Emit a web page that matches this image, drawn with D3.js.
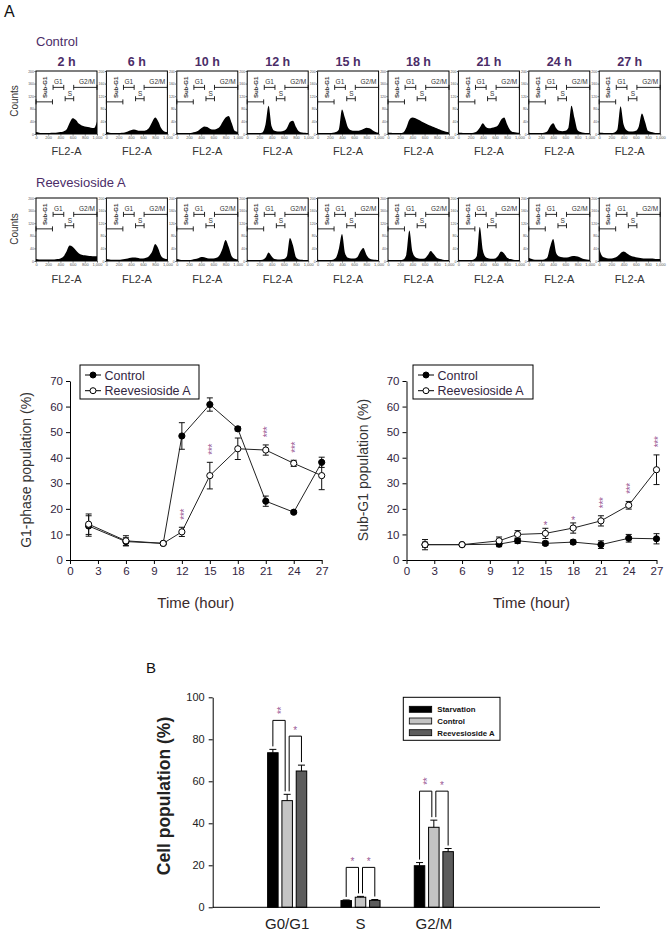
<!DOCTYPE html>
<html><head><meta charset="utf-8">
<script src="https://cdn.jsdelivr.net/npm/d3@7"></script>
<style>body{margin:0;background:#fff;} svg{display:block;font-family:'Liberation Sans',Arial,sans-serif;}</style>
</head><body><svg id="c" width="670" height="934"></svg>
<script>
// ---------- DATA ----------
const timePoints = ["2 h","6 h","10 h","12 h","15 h","18 h","21 h","24 h","27 h"];
const fl2Bins = [0,50,100,150,200,250,300,350,400,450,500,550,600,650,700,750,800,850,900,950,1000];
const histControl = [
  [6,4,3,3,3,4,4,5,6,8,14,35,50,45,33,27,24,22,20,19,40],
  [6,4,3,3,3,4,5,8,12,14,12,10,10,12,20,38,52,40,18,8,6],
  [5,3,3,3,3,4,6,10,18,24,22,16,14,16,22,38,52,57,35,10,6],
  [4,3,3,3,3,5,30,90,25,10,8,8,10,18,38,42,22,8,5,4,3],
  [4,3,3,3,3,4,6,15,78,50,20,12,10,10,12,16,20,18,12,6,4],
  [5,4,3,3,3,5,20,45,52,50,45,40,35,30,26,22,18,14,10,7,5],
  [5,4,3,3,3,4,8,20,34,22,18,20,22,28,45,52,30,12,6,5,4],
  [4,3,3,3,3,4,8,25,34,18,10,9,10,20,90,50,12,6,4,3,3],
  [5,4,3,3,3,5,15,88,30,12,8,8,10,25,65,40,10,6,4,3,3]
];
const histReev = [
  [6,5,5,5,5,5,5,6,8,14,30,49,45,35,25,20,18,17,16,15,15],
  [6,5,4,4,4,5,6,8,10,11,10,8,8,10,16,30,54,40,15,8,6],
  [6,4,3,3,3,4,6,9,13,12,9,8,8,10,18,40,67,45,15,7,5],
  [4,3,3,3,3,4,10,27,15,6,5,5,6,15,73,50,12,5,4,3,3],
  [4,3,3,3,3,4,10,40,86,25,10,8,8,12,30,41,20,8,5,4,3],
  [4,3,3,3,3,5,20,97,30,12,8,7,8,18,32,22,10,6,4,3,3],
  [4,3,3,3,3,5,15,108,35,12,8,7,8,16,30,24,10,6,4,3,3],
  [10,6,4,4,4,5,10,45,70,25,14,12,11,12,15,16,14,10,6,5,4],
  [38,15,10,8,8,10,15,25,30,25,18,14,12,10,9,8,8,8,7,6,6]
];
const gateNames = ["Sub-G1","G1","S","G2/M"];
const gateStart = [0,280,478,618];
const gateEnd   = [270,455,618,1000];
const gateLevel = [102,148,112,148];

const hours = [2,6,10,12,15,18,21,24,27];
const g1Control    = [13.3, 7.2, 6.5, 48.5, 60.8, 51.3, 23.0, 18.7, 38.2];
const g1ControlErr = [4.0, 1.5, 0.5, 5.2, 2.6, 0.8, 2.0, 0.6, 2.0];
const g1Reev       = [14.0, 7.5, 6.5, 11.0, 33.0, 43.5, 43.0, 37.8, 33.0];
const g1ReevErr    = [4.0, 2.0, 0.5, 1.8, 5.2, 4.2, 2.0, 1.2, 5.5];
const g1Sig        = ["","","","***","***","","***","***",""];
const subControl    = [6.0, 6.0, 6.2, 7.5, 6.5, 7.0, 6.0, 8.5, 8.3];
const subControlErr = [1.0, 0.5, 1.0, 1.0, 0.8, 0.8, 1.5, 1.5, 2.0];
const subReev       = [6.0, 6.0, 7.5, 10.0, 10.4, 12.5, 15.3, 21.4, 35.3];
const subReevErr    = [2.0, 0.5, 1.5, 1.5, 2.0, 2.0, 2.0, 1.5, 5.8];
const subSig        = ["","","","","*","*","***","***","***"];
const lineSeries = ["Control","Reevesioside A"];

const phases = ["G0/G1","S","G2/M"];
const barSeries = ["Starvation","Control","Reevesioside A"];
const starvation    = [73.6, 3.2, 19.8];
const starvationErr = [1.6, 0.3, 1.5];
const controlBar    = [50.8, 4.8, 38.1];
const controlBarErr = [3.0, 0.4, 3.4];
const reevBar       = [64.9, 3.3, 26.5];
const reevBarErr    = [2.8, 0.4, 1.5];
const barSig = [
  {phase:"G0/G1", a:0, b:1, label:"**"},
  {phase:"G0/G1", a:1, b:2, label:"*"},
  {phase:"S", a:0, b:1, label:"*"},
  {phase:"S", a:1, b:2, label:"*"},
  {phase:"G2/M", a:0, b:1, label:"**"},
  {phase:"G2/M", a:1, b:2, label:"*"}
];

// ---------- DRAW ----------
const svg = d3.select("#c");
const purple = "#4b2d68", dark = "#33263f", starCol = "#9a5a96";

// significance marks: multi-star labels are a single text turned to read vertically
function star(g, x, yc, label, fs){
  if(label.length > 1){
    g.append("text").attr("transform",`translate(${x},${yc}) rotate(-90)`)
      .attr("text-anchor","middle").attr("dy","0.57em").attr("font-size",fs)
      .attr("letter-spacing",-0.3).attr("fill",starCol).text(label);
  } else {
    g.append("text").attr("x",x).attr("y",yc + 0.57*fs).attr("text-anchor","middle")
      .attr("font-size",fs).attr("fill",starCol).text(label);
  }
}

// Panel A
svg.append("text").attr("x",4).attr("y",17).attr("font-size",16).attr("fill","#111").text("A");
const hW = 61, hH = 63, panelStep = 70.4, panelX0 = 36;
const hx = d3.scaleLinear().domain([0,1000]).range([0,hW]);
const hy = d3.scaleLinear().domain([0,200]).range([hH,0]).clamp(true);
const rowsA = [
  {title:"Control", data:histControl, top:71, titleY:46, countsY:101, fl2Y:155, time:true},
  {title:"Reevesioside A", data:histReev, top:198, titleY:186.5, countsY:229, fl2Y:283, time:false}
];
const area = d3.area().x((d,k)=>hx(fl2Bins[k])).y0(hy(0)).y1(d=>hy(d)).curve(d3.curveMonotoneX);
rowsA.forEach(row=>{
  svg.append("text").attr("x",36).attr("y",row.titleY).attr("font-size",13).attr("fill",purple).text(row.title);
  svg.append("text").attr("transform",`translate(18,${row.countsY}) rotate(-90)`).attr("text-anchor","middle")
    .attr("font-size",10).attr("fill","#333").text("Counts");
  row.data.forEach((vals,i)=>{
    const gx = panelX0 + i*panelStep;
    const g = svg.append("g").attr("transform",`translate(${gx},${row.top})`);
    if(row.time){
      svg.append("text").attr("x",gx+hW/2).attr("y",row.top-5.5).attr("text-anchor","middle")
        .attr("font-size",12.5).attr("font-weight","bold").attr("fill",purple).text(timePoints[i]);
    }
    g.append("path").datum(vals).attr("d",area).attr("fill","#000");
    g.append("rect").attr("width",hW).attr("height",hH).attr("fill","none").attr("stroke","#000").attr("stroke-width",1);
    const ax = d3.axisBottom(hx).tickValues([0,200,400,600,800,1000]).tickSize(1.5).tickPadding(0.5).tickSizeOuter(0);
    g.append("g").attr("transform",`translate(0,${hH})`).call(ax).call(s=>{
      s.select(".domain").remove();
      s.selectAll("text").attr("font-size",4).attr("fill","#555");
      s.selectAll("line").attr("stroke","#555");
    });
    const ay = d3.axisLeft(hy).tickValues([0,40,80,120,160,200]).tickSize(1.5).tickPadding(0.5).tickSizeOuter(0);
    g.append("g").call(ay).call(s=>{
      s.select(".domain").remove();
      s.selectAll("text").attr("font-size",3.5).attr("fill","#555");
      s.selectAll("line").attr("stroke","#555");
    });
    gateNames.forEach((nm,k)=>{
      const x1 = hx(gateStart[k]), x2 = hx(gateEnd[k]), yy = hy(gateLevel[k]);
      g.append("line").attr("x1",x1).attr("x2",x2).attr("y1",yy).attr("y2",yy).attr("stroke","#111").attr("stroke-width",0.9);
      [x1,x2].forEach(xx=>g.append("line").attr("x1",xx).attr("x2",xx).attr("y1",yy-2.5).attr("y2",yy+2.5).attr("stroke","#111").attr("stroke-width",0.9));
    });
    g.append("text").attr("transform",`translate(${hx(150)},${hy(148)}) rotate(-90)`).attr("text-anchor","middle")
      .attr("dy","0.35em").attr("font-size",6).attr("font-weight","bold").attr("fill","#333").text("Sub-G1");
    g.append("text").attr("x",hx(366)).attr("y",hy(166)).attr("dy","0.35em").attr("text-anchor","middle")
      .attr("font-size",6.5).attr("fill","#333").text("G1");
    g.append("text").attr("x",hx(555)).attr("y",hy(129)).attr("dy","0.35em").attr("text-anchor","middle")
      .attr("font-size",6.5).attr("fill","#333").text("S");
    g.append("text").attr("x",hx(835)).attr("y",hy(166)).attr("dy","0.35em").attr("text-anchor","middle")
      .attr("font-size",6.5).attr("fill","#333").text("G2/M");
    svg.append("text").attr("x",gx+hW/2).attr("y",row.fl2Y).attr("text-anchor","middle")
      .attr("font-size",11).attr("fill","#333").text("FL2-A");
  });
});

// Line charts
function lineChart(opts){
  const x = d3.scaleLinear().domain([0,27]).range(opts.xr);
  const y = d3.scaleLinear().domain([0,70]).range([560,381]);
  const g = svg.append("g");
  const ax = d3.axisBottom(x).tickValues(d3.range(0,28,3)).tickSize(4).tickSizeOuter(0).tickPadding(3);
  g.append("g").attr("transform","translate(0,560)").call(ax).call(s=>{
    s.selectAll("text").attr("font-size",11.5).attr("fill",dark).attr("font-family","'Liberation Sans',Arial,sans-serif");
  });
  const ay = d3.axisLeft(y).tickValues(d3.range(0,71,10)).tickSize(4).tickSizeOuter(0).tickPadding(3);
  g.append("g").attr("transform",`translate(${opts.xr[0]},0)`).call(ay).call(s=>{
    s.selectAll("text").attr("font-size",11.5).attr("fill",dark).attr("font-family","'Liberation Sans',Arial,sans-serif");
  });
  g.append("text").attr("transform",`translate(${opts.ylabX},470) rotate(-90)`).attr("text-anchor","middle")
    .attr("font-size",14).attr("fill","#333").text(opts.ylab);
  g.append("text").attr("x",(opts.xr[0]+opts.xr[1])/2).attr("y",608).attr("text-anchor","middle")
    .attr("font-size",15).attr("fill","#3a2a2a").text("Time (hour)");
  const series = [
    {vals:opts.c, errs:opts.ce, fill:"#000"},
    {vals:opts.r, errs:opts.re, fill:"#fff"}
  ];
  const line = d3.line().x((d,i)=>x(hours[i])).y(d=>y(d));
  series.forEach(s=>{
    g.append("path").datum(s.vals).attr("d",line).attr("fill","none").attr("stroke","#222").attr("stroke-width",1);
  });
  series.forEach(s=>{
    s.vals.forEach((v,i)=>{
      const xx = x(hours[i]), y1 = y(v+s.errs[i]), y2 = y(v-s.errs[i]);
      g.append("line").attr("x1",xx).attr("x2",xx).attr("y1",y1).attr("y2",y2).attr("stroke","#111");
      [y1,y2].forEach(yy=>g.append("line").attr("x1",xx-3).attr("x2",xx+3).attr("y1",yy).attr("y2",yy).attr("stroke","#111"));
    });
  });
  series.forEach(s=>{
    g.selectAll(null).data(s.vals).enter().append("circle")
      .attr("cx",(d,i)=>x(hours[i])).attr("cy",d=>y(d)).attr("r",3.1)
      .attr("fill",s.fill).attr("stroke","#000").attr("stroke-width",1);
  });
  opts.sig.forEach((lab,i)=>{
    if(!lab) return;
    const top = y(opts.r[i]+opts.re[i]);
    star(g, x(hours[i]), top - (lab.length>1 ? 13 : 5), lab, 10);
  });
  const L = opts.leg;
  g.append("rect").attr("x",L.x).attr("y",365).attr("width",L.w).attr("height",34)
    .attr("fill","#fff").attr("stroke","#000").attr("stroke-width",1);
  lineSeries.forEach((nm,k)=>{
    const yy = 375 + k*15.7;
    g.append("line").attr("x1",L.x+5).attr("x2",L.x+21).attr("y1",yy).attr("y2",yy).attr("stroke","#000");
    g.append("circle").attr("cx",L.x+13).attr("cy",yy).attr("r",3).attr("fill",k===0?"#000":"#fff").attr("stroke","#000");
    g.append("text").attr("x",L.x+24.5).attr("y",yy+4.5).attr("font-size",12.5).attr("fill",dark).text(nm);
  });
}
lineChart({xr:[70,321.7], c:g1Control, ce:g1ControlErr, r:g1Reev, re:g1ReevErr, sig:g1Sig,
  ylab:"G1-phase population (%)", ylabX:31, leg:{x:80,w:119}});
lineChart({xr:[406.5,656.5], c:subControl, ce:subControlErr, r:subReev, re:subReevErr, sig:subSig,
  ylab:"Sub-G1 population (%)", ylabX:368, leg:{x:413,w:120}});

// Panel B
svg.append("text").attr("x",146).attr("y",673).attr("font-size",15).attr("fill","#111").text("B");
const by = d3.scaleLinear().domain([0,100]).range([907.3,697.3]);
const bx = d3.scaleBand().domain(phases).range([250.5,470.5]);
const bxi = d3.scaleBand().domain(barSeries).range([-19.55,19.55]).paddingInner(0.266);
const barVals = [starvation, controlBar, reevBar];
const barErrs = [starvationErr, controlBarErr, reevBarErr];
const barCols = ["#000","#c4c4c4","#5c5c5c"];
const gB = svg.append("g");
const cx = (p,k)=>bx(p)+bx.bandwidth()/2 + bxi(barSeries[k]) + bxi.bandwidth()/2;
barSeries.forEach((nm,k)=>{
  phases.forEach((p,i)=>{
    const v = barVals[k][i], e = barErrs[k][i];
    const x0 = bx(p)+bx.bandwidth()/2 + bxi(nm);
    gB.append("rect").attr("x",x0).attr("y",by(v)).attr("width",bxi.bandwidth()).attr("height",by(0)-by(v))
      .attr("fill",barCols[k]).attr("stroke","#000").attr("stroke-width",1);
    const c = cx(p,k);
    gB.append("line").attr("x1",c).attr("x2",c).attr("y1",by(v)).attr("y2",by(v+e)).attr("stroke","#000");
    gB.append("line").attr("x1",c-3.5).attr("x2",c+3.5).attr("y1",by(v+e)).attr("y2",by(v+e)).attr("stroke","#000");
  });
});
const ayB = d3.axisLeft(by).tickValues([0,20,40,60,80,100]).tickSize(4).tickSizeOuter(0).tickPadding(4);
gB.append("g").attr("transform","translate(212.7,0)").call(ayB).call(s=>{
  s.selectAll("text").attr("font-size",11).attr("fill","#222").attr("font-family","'Liberation Sans',Arial,sans-serif");
});
gB.append("line").attr("x1",212.7).attr("x2",600).attr("y1",by(0)).attr("y2",by(0)).attr("stroke","#000");
phases.forEach(p=>{
  gB.append("text").attr("x",bx(p)+bx.bandwidth()/2).attr("y",929).attr("text-anchor","middle")
    .attr("font-size",15).attr("fill","#222").text(p);
});
gB.append("text").attr("transform","translate(170,796) rotate(-90)").attr("text-anchor","middle")
  .attr("font-size",17.5).attr("font-weight","bold").attr("fill","#222").text("Cell population (%)");
barSig.forEach(s=>{
  const i = phases.indexOf(s.phase);
  const ta = barVals[s.a][i]+barErrs[s.a][i], tb = barVals[s.b][i]+barErrs[s.b][i];
  const top = by(Math.max(ta,tb)) - 29;
  const xa = cx(s.phase,s.a) + (s.a===1 ? 2 : 0);
  const xb = cx(s.phase,s.b) - (s.b===1 ? 2 : 0);
  gB.append("path").attr("d",`M${xa},${by(ta)-3}V${top}H${xb}V${by(tb)-3}`)
    .attr("fill","none").attr("stroke","#000").attr("stroke-width",1);
  star(gB, (xa+xb)/2, top - (s.label.length>1 ? 10 : 8), s.label, 10);
});
gB.append("rect").attr("x",403.3).attr("y",697.3).attr("width",96.7).attr("height",43)
  .attr("fill","#fff").attr("stroke","#000");
barSeries.forEach((nm,k)=>{
  const yy = 709.3 + k*11.7;
  gB.append("rect").attr("x",409.3).attr("y",yy-3).attr("width",22.4).attr("height",6)
    .attr("fill",barCols[k]).attr("stroke","#000").attr("stroke-width",0.8);
  gB.append("text").attr("x",437.3).attr("y",yy+3).attr("font-size",7.8).attr("font-weight","bold")
    .attr("fill","#111").text(nm);
});
</script></body></html>
